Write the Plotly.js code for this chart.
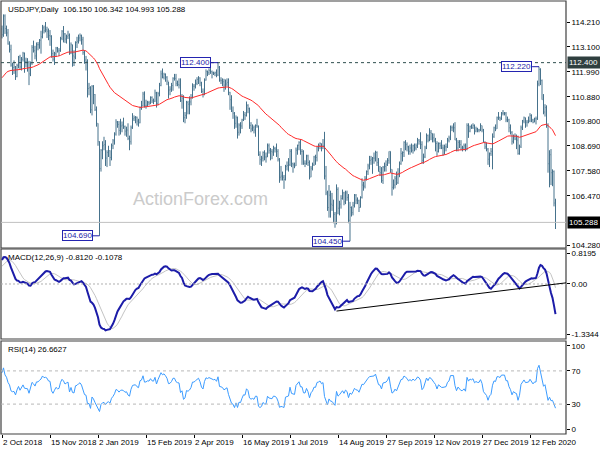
<!DOCTYPE html>
<html><head><meta charset="utf-8">
<script src="https://cdn.plot.ly/plotly-3.0.1.min.js"></script>
<style>html,body{margin:0;padding:0;background:#fff}#chart{width:600px;height:450px}</style>
</head><body><div id="chart"></div>
<script>
// closes before the visible window (Jun-Sep 2018), used only to warm up the indicators
const warmClose = [109.5,109.8,109.8,110.2,109.7,109.5,110.0,110.4,110.4,110.6,110.7,110.5,110.1,110.4,110.0,110.0,109.7,110.1,110.3,110.5,110.7,
110.9,110.5,110.5,110.6,110.5,110.9,111.0,112.0,112.5,112.4,112.3,112.9,112.9,112.4,111.4,111.4,111.2,111.0,111.1,111.0,111.0,
111.9,111.7,111.7,111.2,111.4,111.4,111.0,111.1,110.9,110.7,111.2,110.7,110.9,110.5,110.0,110.2,110.5,111.3,111.2,111.1,111.2,111.7,111.0,111.0,
111.1,111.5,111.5,110.7,111.0,111.1,111.6,111.3,111.9,112.0,111.8,112.3,112.3,112.5,112.6,112.8,113.0,112.7,113.4,113.7,113.9];

// daily bars, 2 Oct 2018 .. 6 Mar 2020
const high = [
114.05,114.55,114.55,114.05,113.90,113.35,113.20,112.40,112.50,112.25,112.35,112.70,112.75,112.65,112.88,112.85,112.62,112.60,112.48,112.45,113.18,113.38,
113.15,113.30,113.32,113.45,113.82,114.08,114.05,114.21,114.00,113.92,113.85,113.62,112.98,112.88,113.10,113.10,113.05,113.55,113.85,114.03,113.72,113.65,
113.82,113.70,113.30,113.20,112.95,113.35,113.55,113.65,113.70,113.65,113.55,112.95,112.70,112.55,111.50,111.35,111.40,111.40,111.00,110.45,
109.70,108.90,108.55,108.90,109.10,108.95,108.50,108.70,108.50,108.80,109.00,109.30,109.88,109.80,109.80,109.90,109.78,109.95,109.60,109.55,109.70,109.15,
109.60,110.15,110.05,110.02,110.00,109.90,110.45,110.70,111.10,111.12,110.75,110.70,110.70,110.90,110.90,110.80,111.20,111.10,111.10,111.50,
112.05,112.14,111.95,111.92,111.80,111.55,111.35,111.50,111.75,111.90,111.90,111.60,111.70,111.70,111.00,110.95,110.20,110.70,110.70,110.90,111.00,
111.48,111.45,111.65,111.75,111.80,111.75,111.55,111.25,111.70,112.10,112.05,112.15,112.20,112.05,112.00,112.00,112.10,112.40,112.25,111.75,111.70,111.68,
111.65,111.70,111.70,111.10,110.95,110.45,110.20,110.05,110.00,109.70,109.75,109.90,110.25,110.20,110.67,110.55,110.40,109.75,109.65,109.60,109.65,109.90,109.60,
108.45,108.25,108.45,108.50,108.40,108.80,108.80,108.60,108.55,108.70,108.65,108.80,108.55,108.15,107.80,107.55,107.40,107.85,108.00,108.15,
108.55,108.55,107.95,107.95,108.62,108.75,108.90,108.99,108.55,108.50,108.05,108.30,108.30,108.05,107.80,107.95,108.25,108.30,108.65,108.80,108.85,108.80,109.00,
109.32,107.80,106.70,106.95,106.70,106.60,106.30,105.75,106.98,106.85,106.25,106.50,106.75,106.65,106.70,106.70,106.55,106.20,106.00,106.20,106.55,106.55,
106.40,106.30,106.45,107.25,107.10,107.35,107.60,107.90,108.25,108.25,108.20,108.40,108.48,108.45,108.15,107.80,107.75,107.80,107.95,108.05,108.15,
108.45,108.45,107.65,107.20,107.35,107.55,107.70,108.00,108.60,108.45,108.90,108.95,108.85,108.70,108.75,108.80,108.75,108.80,108.80,109.05,109.00,109.30,108.90,
108.35,108.70,109.25,109.20,109.48,109.40,109.25,109.25,109.05,108.90,108.85,108.85,108.95,108.75,108.75,108.80,109.05,109.15,109.60,109.60,109.70,
109.75,109.05,108.95,108.95,108.95,108.70,108.80,108.80,109.70,109.70,109.60,109.65,109.70,109.65,109.55,109.50,109.45,109.70,109.60,109.45,108.90,
108.85,108.60,108.40,108.60,109.25,109.55,109.65,110.00,110.20,110.00,110.20,110.29,110.20,110.20,110.00,109.90,109.65,109.35,109.20,109.25,109.20,109.15,
108.75,109.60,109.85,110.00,109.95,109.85,110.00,110.15,110.10,109.90,109.95,110.00,111.60,112.22,112.15,111.65,111.00,110.55,110.50,109.70,
108.50,108.55,107.65,107.60,106.342];
const low = [
113.48,113.55,113.68,113.57,113.20,112.85,112.22,111.85,111.90,111.63,111.75,112.15,112.10,112.05,112.45,111.95,112.20,112.00,111.40,111.80,112.30,112.85,
112.55,112.45,112.95,113.02,112.80,113.48,113.70,113.75,113.50,113.40,113.15,112.62,112.45,112.30,112.65,112.85,112.70,112.88,113.40,113.30,113.28,113.25,
113.45,112.75,112.78,112.22,112.25,112.55,113.05,113.25,113.35,113.20,112.75,112.35,112.05,110.85,110.95,110.15,110.05,110.55,110.25,109.55,
108.70,104.69,107.55,108.10,108.50,107.80,107.75,108.20,107.80,108.05,108.55,108.75,109.15,109.50,109.15,109.20,109.30,109.45,109.15,109.10,108.95,108.50,
108.75,109.45,109.80,109.70,109.60,109.55,109.70,110.30,110.45,110.40,110.35,110.45,110.50,110.55,110.60,110.55,110.65,110.40,110.50,110.90,
111.35,111.70,111.65,111.55,111.40,110.80,110.95,111.10,111.15,111.60,111.35,111.35,111.25,110.65,110.35,109.75,109.70,109.90,110.10,110.10,110.50,
110.80,111.15,111.25,111.40,111.45,111.35,111.05,110.85,110.95,111.60,111.80,111.85,111.90,111.70,111.85,111.80,111.75,111.80,111.55,111.45,111.35,111.10,
111.20,111.35,110.95,110.30,110.20,109.90,109.45,109.50,109.02,109.15,109.25,109.45,109.80,109.85,110.00,110.15,109.45,109.30,109.35,109.25,109.10,109.50,108.25,
107.85,107.80,108.00,108.05,107.95,108.20,108.35,108.05,108.10,108.25,108.40,108.20,108.00,107.05,107.15,107.15,106.78,107.15,107.60,107.55,
107.80,107.75,107.50,107.70,107.80,108.30,108.50,108.30,107.85,107.85,107.75,107.85,107.80,107.20,107.30,107.60,107.80,107.85,108.00,108.45,108.55,108.45,108.55,
107.20,106.50,105.80,105.50,105.50,105.80,105.25,105.05,105.20,105.65,105.60,105.90,106.30,106.05,106.10,106.25,105.25,104.45,105.55,105.60,105.95,106.10,
106.10,105.75,105.95,106.35,106.70,106.80,107.15,107.40,107.65,107.85,107.45,107.90,108.00,107.80,107.55,107.35,107.05,107.00,107.55,107.55,107.80,
107.90,107.50,106.48,106.75,106.80,106.95,107.00,107.30,107.85,108.00,108.20,108.50,108.45,108.30,108.30,108.40,108.35,108.45,108.50,108.60,108.75,108.55,107.90,
107.90,108.15,108.55,108.85,108.90,108.95,108.85,108.85,108.45,108.25,108.40,108.55,108.55,108.25,108.30,108.45,108.60,108.85,108.95,109.35,109.30,
108.95,108.45,108.45,108.60,108.50,108.45,108.50,108.45,108.50,109.05,109.30,109.45,109.45,109.20,109.30,109.30,109.30,109.35,109.30,108.85,108.55,
108.45,107.85,107.75,108.25,107.65,109.05,109.35,109.45,109.85,109.80,109.85,110.05,110.05,109.75,109.75,109.30,109.20,108.75,108.80,108.95,108.55,108.30,
108.30,108.60,109.40,109.70,109.50,109.55,109.70,109.75,109.75,109.70,109.75,109.65,109.85,111.35,111.40,110.75,110.10,110.00,109.50,107.50,
106.85,106.95,106.90,106.00,104.993];
const close = [
113.64,114.48,113.92,113.72,113.23,112.98,112.29,112.18,112.21,111.78,112.27,112.65,112.21,112.55,112.82,112.45,112.44,112.40,111.90,112.38,113.08,112.93,
112.70,113.20,113.20,113.40,113.55,113.95,113.82,113.86,113.80,113.60,113.58,112.80,112.55,112.80,113.05,112.92,112.95,113.48,113.80,113.68,113.45,113.55,
113.62,112.82,113.20,112.70,112.65,113.30,113.35,113.50,113.60,113.42,112.85,112.52,112.45,111.25,111.28,110.30,111.35,110.98,110.30,109.70,
108.88,107.68,108.50,108.70,108.75,108.15,108.40,108.48,108.18,108.70,108.92,109.22,109.76,109.65,109.38,109.58,109.62,109.55,109.35,109.40,109.02,108.88,
109.50,109.90,109.95,109.97,109.80,109.72,110.40,110.48,111.00,110.48,110.50,110.62,110.60,110.85,110.70,110.68,111.05,110.58,111.02,111.38,
111.90,111.75,111.88,111.75,111.58,111.18,111.22,111.38,111.70,111.70,111.48,111.42,111.40,110.70,110.82,109.95,110.05,110.62,110.55,110.65,110.85,
111.35,111.35,111.48,111.65,111.72,111.50,111.12,110.98,111.62,112.00,111.95,112.05,112.00,111.95,111.92,111.95,111.85,112.20,111.62,111.60,111.55,111.40,
111.45,111.52,111.08,110.75,110.25,110.15,109.70,109.95,109.30,109.62,109.58,109.85,110.08,110.05,110.50,110.35,109.60,109.45,109.50,109.40,109.60,109.58,108.30,
108.08,108.15,108.40,108.20,108.20,108.70,108.50,108.45,108.42,108.58,108.55,108.45,108.10,107.30,107.35,107.30,107.20,107.78,107.82,107.85,
108.45,107.90,107.85,107.80,108.50,108.72,108.85,108.45,108.45,107.92,107.90,108.25,107.95,107.30,107.70,107.85,108.20,108.18,108.65,108.70,108.80,108.60,108.70,
107.35,106.60,105.95,106.50,106.10,106.05,105.65,105.30,106.75,105.92,106.10,106.35,106.60,106.20,106.60,106.40,105.38,105.95,105.72,106.05,106.50,106.28,
106.25,105.95,106.40,106.95,106.90,107.25,107.55,107.80,108.05,108.10,108.15,108.15,108.40,107.95,107.55,107.50,107.15,107.75,107.78,107.85,108.05,
108.45,107.65,106.85,106.95,107.25,107.05,107.45,107.90,108.35,108.40,108.85,108.75,108.65,108.45,108.60,108.50,108.70,108.60,108.70,108.95,108.90,108.75,108.05,
108.20,108.60,109.15,108.95,109.30,109.25,109.05,108.95,108.80,108.45,108.80,108.70,108.60,108.60,108.65,108.65,108.95,109.05,109.50,109.50,109.50,
108.95,108.60,108.85,108.75,108.60,108.60,108.70,108.55,109.60,109.35,109.55,109.50,109.60,109.35,109.45,109.40,109.40,109.60,109.40,108.85,108.65,
108.55,108.10,108.35,108.45,109.10,109.50,109.45,109.95,109.95,109.90,110.15,110.15,110.15,109.85,109.85,109.50,109.30,108.90,109.10,109.00,108.95,108.35,
108.65,109.50,109.80,109.95,109.75,109.75,109.80,110.05,109.85,109.75,109.90,109.90,111.45,112.10,111.60,110.75,110.20,110.40,109.60,107.90,
108.30,107.50,107.55,106.15,105.288];

const xTickIdx = [0,32,64,96,128,160,192,224,256,288,320,352];
const xTickText = ['2 Oct 2018','15 Nov 2018','2 Jan 2019','15 Feb 2019','2 Apr 2019','16 May 2019','1 Jul 2019','14 Aug 2019','27 Sep 2019','12 Nov 2019','27 Dec 2019','12 Feb 2020'];
const priceTicks = [114.21,113.10,111.99,110.88,109.80,108.69,107.58,106.47,104.28];
const macdTicks = [0.8195,0,-1.3344];
const macdTickText = ['0.8195','0.00','-1.3344'];
const rsiTicks = [100,70,30,0];
const resistance = 112.400;
const macdLabel = 'MACD(12,26,9) -0.8120 -0.1078';
const rsiLabel = 'RSI(14) 26.6627';
const trend = {i0:223, v0:-0.72, i1:376, v1:0.03};

const n = close.length;
const idx = close.map((_,i)=>i);
const open = close.map((c,i)=> i===0 ? warmClose[warmClose.length-1] : close[i-1]);
const all = warmClose.concat(close);
const W = warmClose.length;
function ema(a,p){const k=2/(p+1);const o=[];let e=a[0];for(let i=0;i<a.length;i++){e=i===0?a[0]:a[i]*k+e*(1-k);o.push(e);}return o;}
const ma = ema(all,55).slice(W);
const e12=ema(all,12), e26=ema(all,26);
const macdAll = e12.map((v,i)=>v-e26[i]);
const sigAll = macdAll.map((v,i)=>{if(i<8)return v;let s=0;for(let j=i-8;j<=i;j++)s+=macdAll[j];return s/9;});
const rsiAll=[];let ag=0,al=0;
for(let i=0;i<all.length;i++){if(i===0){rsiAll.push(50);continue;}const d=all[i]-all[i-1];const g=Math.max(d,0),l=Math.max(-d,0);
 if(i<=14){ag+=g/14;al+=l/14;}else{ag=(ag*13+g)/14;al=(al*13+l)/14;} rsiAll.push(al===0?100:100-100/(1+ag/al));}
const macd=macdAll.slice(W), sig=sigAll.slice(W), rsi=rsiAll.slice(W);

function argmax(a,s,e){let b=s;for(let i=s;i<=e;i++)if(a[i]>a[b])b=i;return b;}
function argmin(a,s,e){let b=s;for(let i=s;i<=e;i++)if(a[i]<a[b])b=i;return b;}
const extremes=[
 {i:argmin(low,50,90), lo:true},
 {i:argmax(high,120,160), lo:false},
 {i:argmin(low,200,260), lo:true},
 {i:argmax(high,330,369), lo:false}];
extremes.forEach(e=>{e.v = e.lo?low[e.i]:high[e.i];});

const F='Liberation Sans, Arial, sans-serif';
const barC='#46728c';
const traces=[
 {type:'ohlc',x:idx,open:open,high:high,low:low,close:close,xaxis:'x',yaxis:'y',
  increasing:{line:{color:barC,width:1}},decreasing:{line:{color:barC,width:1}},tickwidth:0.3,hoverinfo:'skip',showlegend:false},
 {type:'scatter',mode:'lines',x:idx,y:ma,yaxis:'y',line:{color:'#ff2a2a',width:1},hoverinfo:'skip',showlegend:false},
 {type:'scatter',mode:'lines',x:idx,y:sig,yaxis:'y2',line:{color:'#c4c4c4',width:1},hoverinfo:'skip',showlegend:false},
 {type:'scatter',mode:'lines',x:idx,y:macd,yaxis:'y2',line:{color:'#1c1ca8',width:2},hoverinfo:'skip',showlegend:false},
 {type:'scatter',mode:'lines',x:idx,y:rsi,yaxis:'y3',line:{color:'#3c9cff',width:1},hoverinfo:'skip',showlegend:false}
];

const dMain=[0.4296,1], dMacd=[0.2194,0.4273], dRsi=[0,0.2148];
const yax=(dom,rng,tv,tt)=>({domain:dom,range:rng,side:'right',anchor:'x',tickvals:tv,ticktext:tt,ticks:'outside',ticklen:3,tickcolor:'#000',
  showgrid:false,zeroline:false,showline:false,tickfont:{family:F,size:8,color:'#000'},fixedrange:true});

const shapes=[];
[dMain,dMacd,dRsi].forEach(d=>shapes.push({type:'rect',xref:'paper',yref:'paper',x0:0,x1:1,y0:d[0],y1:d[1],line:{color:'#404040',width:1.2},fillcolor:'rgba(0,0,0,0)'}));
shapes.push({type:'line',xref:'paper',yref:'y',x0:0,x1:1,y0:resistance,y1:resistance,line:{color:'#2f4f4f',width:1,dash:'3px,3px'}});
shapes.push({type:'line',xref:'paper',yref:'y',x0:0,x1:1,y0:close[n-1],y1:close[n-1],line:{color:'#c0c0c0',width:1}});
shapes.push({type:'line',xref:'paper',yref:'y2',x0:0,x1:1,y0:0,y1:0,line:{color:'#b0b0b0',width:1,dash:'2px,2px'}});
[70,30].forEach(v=>shapes.push({type:'line',xref:'paper',yref:'y3',x0:0,x1:1,y0:v,y1:v,line:{color:'#b8b8b8',width:1,dash:'3px,3px'}}));
shapes.push({type:'line',xref:'x',yref:'y2',x0:trend.i0,x1:trend.i1,y0:trend.v0,y1:trend.v1,line:{color:'#000',width:1}});

const ann=[];
ann.push({xref:'paper',yref:'paper',x:0.008,y:1,xanchor:'left',yanchor:'top',yshift:-2,showarrow:false,
  text:'USDJPY,Daily  '+open[n-1].toFixed(3)+' '+high[n-1].toFixed(3)+' '+low[n-1].toFixed(3)+' '+close[n-1].toFixed(3),font:{family:F,size:8,color:'#000'}});
ann.push({xref:'paper',yref:'paper',x:0.353,y:0.5427,xanchor:'center',yanchor:'middle',showarrow:false,text:'ActionForex.com',font:{family:F,size:18,color:'#cbcbcb'}});
extremes.forEach(e=>{
  const right=e.i-4.6;
  ann.push({xref:'x',yref:'y',x:right,y:e.v,xanchor:'right',yanchor:'middle',showarrow:false,text:e.v.toFixed(3),
    font:{family:F,size:8,color:'#1c1ca8'},bgcolor:'#fff',bordercolor:'#2424b0',borderwidth:1,borderpad:0});
  shapes.push({type:'line',xref:'x',yref:'y',x0:right,x1:e.i,y0:e.v,y1:e.v,line:{color:'#1c1ca8',width:1}});
});
ann.push({xref:'paper',yref:'paper',x:0.008,y:dMacd[1],xanchor:'left',yanchor:'top',yshift:-2,showarrow:false,text:macdLabel,font:{family:F,size:8,color:'#000'}});
ann.push({xref:'paper',yref:'paper',x:0.008,y:dRsi[1],xanchor:'left',yanchor:'top',yshift:-2,showarrow:false,text:rsiLabel,font:{family:F,size:8,color:'#000'}});
ann.push({xref:'paper',yref:'y',x:1,y:resistance,xanchor:'left',yanchor:'middle',xshift:1,showarrow:false,text:resistance.toFixed(3),
  width:30,align:'left',bgcolor:'#2f3f3f',font:{family:F,size:8,color:'#fff'},borderpad:1});
ann.push({xref:'paper',yref:'y',x:1,y:close[n-1],xanchor:'left',yanchor:'middle',xshift:1,showarrow:false,text:close[n-1].toFixed(3),
  width:30,align:'left',bgcolor:'#000',font:{family:F,size:8,color:'#fff'},borderpad:1});
// date labels start at their tick, as in the reference
xTickIdx.forEach((v,k)=>ann.push({xref:'x',yref:'paper',x:v,y:0,xanchor:'left',yanchor:'top',yshift:-2,xshift:-1,showarrow:false,
  text:xTickText[k],font:{family:F,size:8,color:'#000'}}));

const layout={width:600,height:450,margin:{l:1,r:34,t:1,b:16},paper_bgcolor:'#fff',plot_bgcolor:'#fff',showlegend:false,hovermode:false,
 xaxis:{range:[-0.667,376],anchor:'y3',domain:[0,1],tickvals:xTickIdx,ticks:'outside',ticklen:3,tickcolor:'#000',showticklabels:false,
   showgrid:false,zeroline:false,showline:false,rangeslider:{visible:false},fixedrange:true},
 yaxis:yax(dMain,[104.148,115.145],priceTicks,priceTicks.map(v=>v.toFixed(3))),
 yaxis2:yax(dMacd,[-1.463,0.931],macdTicks,macdTickText),
 yaxis3:yax(dRsi,[-6,106],rsiTicks,rsiTicks.map(String)),
 shapes:shapes,annotations:ann};
Plotly.newPlot('chart',traces,layout,{staticPlot:true,displayModeBar:false});
</script></body></html>
